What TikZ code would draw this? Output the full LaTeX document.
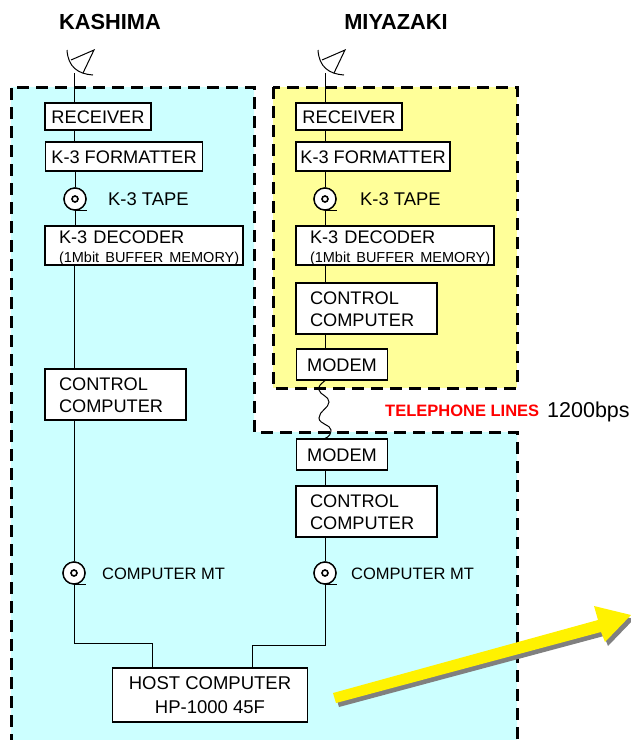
\documentclass[tikz,border=0pt]{standalone}
\usepackage{fontspec}
\setmainfont{Liberation Sans}
\definecolor{stationcyan}{HTML}{CCFFFF}
\definecolor{stationyellow}{HTML}{FFFF99}
\tikzset{
    block/.style={draw, fill=white, line width=1.2pt, inner sep=0pt, text height=15pt, font=\fontsize{18.2}{22}\selectfont},
    receiver/.style={block, minimum width=106pt, minimum height=27pt},
    formatter/.style={block, minimum width=157pt, minimum height=29pt},
    decoder/.style={block, minimum width=198pt, minimum height=39pt, align=left, text width=170pt, inner xsep=14pt, text height=17pt, font=\fontsize{18.2}{19}\selectfont},
    control/.style={block, minimum width=141pt, minimum height=51pt, align=left, text width=113pt, inner xsep=14pt},
    modem/.style={block, minimum width=91pt, minimum height=31pt},
    tape/.style={draw, circle, fill=white, line width=1.2pt, minimum size=22pt, inner sep=0pt},
    label/.style={anchor=west, inner sep=0pt, font=\fontsize{16.5}{20}\selectfont},
    site/.style={inner sep=0pt, font=\fontsize{21.8}{24}\selectfont\bfseries},
    border/.style={line width=3pt, dash pattern=on 12pt off 7pt},
    wire/.style={line width=1pt}
}
\newcommand{\buffertext}{\mbox{\fontsize{14.5}{14}\selectfont (1Mbit BUFFER MEMORY)}}
\begin{document}
\begin{tikzpicture}[x=1pt, y=-1pt]
    \useasboundingbox (0,0) rectangle (631,740);

    % Dashed station areas
    \filldraw[border, fill=stationcyan] (11,765) -- (11,87) -- (254,87) -- (254,432) -- (517,432) -- (517,765);
    \filldraw[border, fill=stationyellow] (273,87) rectangle (517,388);

    % Site names
    \node[site] (kashima) at (110,22) {KASHIMA};
    \node[site] (miyazaki) at (396,22) {MIYAZAKI};

    % Left column
    \node[receiver] (recvk) at (98,116.5) {RECEIVER};
    \node[formatter] (fmtk) at (124,156.5) {K-3 FORMATTER};
    \node[tape] (tapek) at (75,199) {};
    \node[decoder] (deck) at (144,245.5) {K-3 DECODER\\\buffertext};
    \node[control] (ctrlk) at (115.5,394.5) {CONTROL\\COMPUTER};
    \node[tape] (mtk) at (74,573) {};

    % Right column
    \node[receiver] (recvm) at (349,116.5) {RECEIVER};
    \node[formatter, minimum width=154pt] (fmtm) at (373,156.5) {K-3 FORMATTER};
    \node[tape] (tapem) at (325,199) {};
    \node[decoder] (decm) at (395,245.5) {K-3 DECODER\\\buffertext};
    \node[control] (ctrlm) at (366.5,308.5) {CONTROL\\COMPUTER};
    \node[modem] (modemm) at (342,364.5) {MODEM};
    \node[modem] (modemk) at (342,454.5) {MODEM};
    \node[control] (ctrlh) at (366.5,511.5) {CONTROL\\COMPUTER};
    \node[tape] (mtm) at (325,573) {};

    % Host computer
    \node[block, text height=, minimum width=195pt, minimum height=54pt, align=center, font=\fontsize{18.5}{24}\selectfont] (host) at (210,695) {HOST COMPUTER\\HP-1000 45F};

    % Labels
    \node[label, font=\fontsize{18.4}{20}\selectfont] (tapelabk) at (108,199) {K-3 TAPE};
    \node[label, font=\fontsize{18.4}{20}\selectfont] (tapelabm) at (360,199) {K-3 TAPE};
    \node[label] (mtlabk) at (102,574) {COMPUTER MT};
    \node[label] (mtlabm) at (351,574) {COMPUTER MT};
    \node[label, text=red, font=\fontsize{16.5}{20}\selectfont\bfseries] (phone) at (385,411) {TELEPHONE LINES};
    \node[label, font=\fontsize{21.5}{24}\selectfont] (rate) at (547,412) {1200bps};

    % Antennas
    \coordinate (antk) at (74,73);
    \coordinate (antm) at (325,73);
    \foreach \dx in {0,251} {
        \draw[wire, shift={(\dx,0)}] (67,50) .. controls (68,67) and (78,74) .. (93,75);
        \draw[wire, shift={(\dx,0)}] (71,60) -- (94,50) -- (83,73);
    }

    % Host connection points
    \coordinate (hostl) at (152,668);
    \coordinate (hostr) at (252,668);

    % Connectors
    \draw[wire] (antk) -- (antk |- recvk.north);
    \draw[wire] (recvk.south -| antk) -- (fmtk.north -| antk);
    \draw[wire] (fmtk.south -| tapek) -- (tapek);
    \draw[wire] (tapek) -- (deck.north -| tapek);
    \draw[wire] (deck.south -| antk) -- (ctrlk.north -| antk);
    \draw[wire] (ctrlk.south -| mtk) -- (mtk);
    \draw[wire] (mtk) |- (152,643) -- (hostl);
    \draw[wire] (antm) -- (antm |- recvm.north);
    \draw[wire] (recvm.south -| antm) -- (fmtm.north -| antm);
    \draw[wire] (fmtm.south -| tapem) -- (tapem);
    \draw[wire] (tapem) -- (decm.north -| tapem);
    \draw[wire] (decm.south -| antm) -- (ctrlm.north -| antm);
    \draw[wire] (ctrlm.south -| antm) -- (modemm.north -| antm);
    \draw[wire] (modemm.south -| antm) .. controls (321,384) and (318,386) .. (319,390) .. controls (320,395) and (329,396) .. (329,402) .. controls (329,408) and (319,411) .. (319,418) .. controls (319,424) and (331,425) .. (331,430) .. controls (331,434) and (329,437) .. (modemk.north -| antm);
    \draw[wire] (modemk.south -| antm) -- (ctrlh.north -| antm);
    \draw[wire] (ctrlh.south -| mtm) -- (mtm);
    \draw[wire] (mtm) |- (252,645) -- (hostr);

    % Redraw tapes over wires
    \foreach \t in {tapek,mtk,tapem,mtm} {
        \draw[line width=1.4pt, fill=white] (\t) circle (11);
        \draw[line width=1.4pt] (\t.south) -- ++(12,0);
        \draw[line width=1.6pt, fill=white] (\t) circle (3);
    }

    % Data flow arrow
    \fill[gray, shift={(3,4)}] (333,693) -- (598,620) -- (594,606) -- (631,615) -- (605,642) -- (601,632) -- (336,703) -- cycle;
    \fill[yellow] (333,693) -- (598,620) -- (594,606) -- (631,615) -- (605,642) -- (601,632) -- (336,703) -- cycle;
\end{tikzpicture}
\end{document}
